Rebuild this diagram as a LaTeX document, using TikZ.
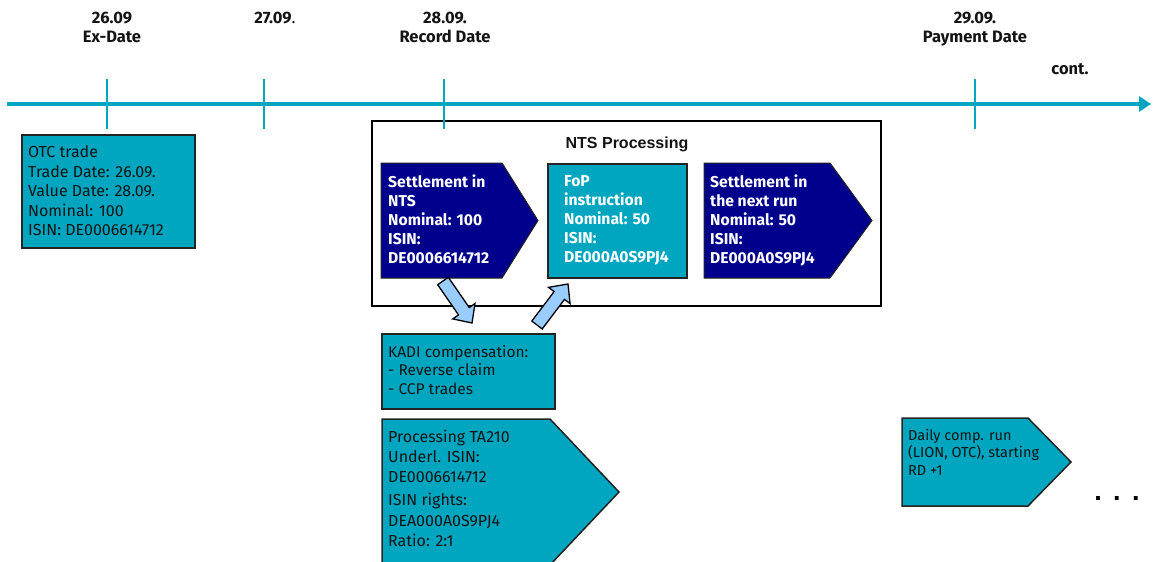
\documentclass[tikz,border=0pt]{standalone}
\usepackage{fontspec}
\setmainfont{Fira Sans}
\newfontfamily\arialfont{Liberation Sans}
\usetikzlibrary{calc,arrows.meta}
\definecolor{tealc}{RGB}{0,166,192}
\definecolor{navyc}{RGB}{0,0,140}
\definecolor{lightb}{RGB}{153,204,255}
\definecolor{edgec}{RGB}{35,35,35}
\definecolor{inkc}{RGB}{20,20,20}
\newcommand\blockarr[2]{%
  \coordinate (#1h) at ($(#1)!0.72!(#2)$);
  \draw[barrow] ($(#1)!6.5pt!90:(#2)$) -- ($(#1h)!6.5pt!90:(#2)$) -- ($(#1h)!13.5pt!90:(#2)$) -- (#2)
     -- ($(#1h)!13.5pt!-90:(#2)$) -- ($(#1h)!6.5pt!-90:(#2)$) -- ($(#1)!6.5pt!-90:(#2)$) -- cycle;}
\tikzset{
  tealbox/.style={draw=edgec, line width=1.5pt, fill=tealc},
  navybox/.style={draw=edgec, line width=1pt, fill=navyc},
  barrow/.style={draw=black, line width=1.3pt, fill=lightb, line join=miter},
  tick/.style={draw=tealc, line width=2.6pt},
  hdr/.style={font={\fontsize{16.5}{19.5}\selectfont\bfseries}, text=inkc, inner sep=0pt, align=center, anchor=north},
  txt/.style={font={\fontsize{16}{19.5}\selectfont}, text=inkc, inner sep=0pt, align=left, anchor=north west},
  wtxt/.style={font={\fontsize{15.7}{19}\selectfont\bfseries}, text=white, inner sep=0pt, align=left, anchor=north west},
}
\begin{document}
\begin{tikzpicture}[x=1pt,y=-1pt]
\useasboundingbox (0,0) rectangle (1154,562);
% NTS processing frame
\draw[draw=black, line width=2pt, fill=white] (372,121) rectangle (881,306);
\node[font={\arialfont\fontsize{16}{19}\selectfont\bfseries}, text=inkc, anchor=base, inner sep=0pt] (ntstitle) at (627,148) {NTS Processing};
% timeline
\draw[draw=tealc, line width=4pt, -{Triangle[length=12pt,width=15pt]}] (7,104) coordinate (tl0) -- (1151,104) coordinate (tl1);
\foreach \x/\n in {107/t1,264/t2,444/t3,975/t4}{\draw[tick] (\x,79) coordinate (\n a) -- (\x,129) coordinate (\n b);}
% header labels
\node[hdr] (h1) at (112,11.5) {26.09\\Ex-Date};
\node[hdr] (h2) at (275,11.5) {27.09{\mdseries.}};
\node[hdr] (h3) at (445,11.5) {28.09.\\Record Date};
\node[hdr] (h4) at (975,11.5) {29.09.\\Payment Date};
\node[hdr, anchor=base] (cont) at (1070,74) {cont.};
% OTC trade
\draw[tealbox] (22,135) rectangle (195,248);
\node[txt] (otc) at (28,145.3) {OTC trade\\Trade Date: 26.09.\\Value Date: 28.09.\\Nominal: 100\\ISIN: DE0006614712};
% NTS boxes
\draw[navybox] (381,163) -- (502,163) -- (538,220.5) -- (502,278) -- (381,278) -- cycle;
\node[wtxt] (nts1) at (388,174.6) {Settlement in\\NTS\\Nominal: 100\\ISIN:\\DE0006614712};
\draw[tealbox] (548,164) rectangle (687,278);
\node[wtxt] (fop) at (564,175.2) {FoP\\instruction\\Nominal: 50\\ISIN:\\DE000A0S9PJ4};
\draw[navybox] (704,163) -- (830,163) -- (872,220.5) -- (830,278) -- (704,278) -- cycle;
\node[wtxt] (nts3) at (710,174.6) {Settlement in\\the next run\\Nominal: 50\\ISIN:\\DE000A0S9PJ4};
% KADI
\draw[tealbox] (382,334) rectangle (555,409);
\node[txt, font={\fontsize{15.5}{18.5}\selectfont}] (kadi) at (388,345.2) {KADI compensation:\\- Reverse claim\\- CCP trades};
% block arrows
\coordinate (a1s) at (443,281);
\coordinate (a1e) at (472,323);
\coordinate (a2s) at (537,325);
\coordinate (a2e) at (568,284);
\blockarr{a1s}{a1e}
\blockarr{a2s}{a2e}
% TA210
\draw[tealbox] (382,419) -- (550,419) -- (619,492) -- (550,565) -- (382,565) -- cycle;
\node[txt, font={\fontsize{16}{20.3}\selectfont}] (ta) at (388,429.5) {Processing TA210\\Underl. ISIN:\\DE0006614712\\[2.7pt]ISIN rights:\\DEA000A0S9PJ4\\Ratio: 2:1};
% daily comp run
\draw[tealbox] (902,418) -- (1028,418) -- (1071,462) -- (1028,506) -- (902,506) -- cycle;
\node[txt, font={\fontsize{14.5}{17.5}\selectfont}] (daily) at (908,428.5) {Daily comp. run\\(LION, OTC), starting\\RD +1};
% dots
\node[font={\arialfont\fontsize{27}{30}\selectfont\bfseries}, text=black, inner sep=0pt, anchor=base] (dots) at (1117,500) {.\hspace{11.5pt}.\hspace{11.5pt}.};
\end{tikzpicture}
\end{document}
